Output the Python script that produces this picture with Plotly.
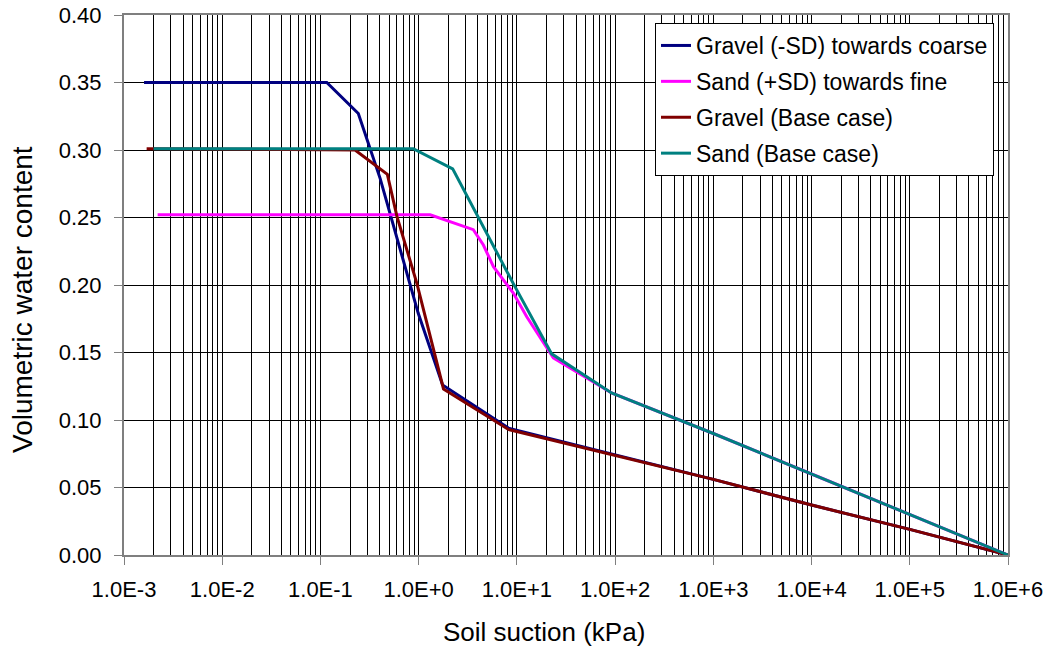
import numpy as np
import plotly.graph_objects as go

# Soil-water characteristic curves (suction in kPa, volumetric water content)
gravel_sd_x = [1.6e-3, 0.116, 0.243, 0.405, 0.99, 1.75, 8.2, 100, 1e3, 1e4, 1e5, 1e6]
gravel_sd_y = [0.350, 0.350, 0.327, 0.279, 0.179, 0.126, 0.094, 0.074, 0.056, 0.037, 0.019, 0.0]

sand_sd_x = [2.2e-3, 1.31, 3.6, 4.56, 5.77, 9.2, 12.6, 23.5, 92, 1e3, 1e4, 1e5, 1e6]
sand_sd_y = [0.252, 0.252, 0.241, 0.2296, 0.2136, 0.194, 0.1765, 0.146, 0.120, 0.090, 0.060, 0.030, 0.0]

gravel_base_x = [1.7e-3, 0.225, 0.48, 0.60, 0.96, 1.79, 8.2, 100, 1e3, 1e4, 1e5, 1e6]
gravel_base_y = [0.301, 0.300, 0.282, 0.251, 0.201, 0.123, 0.093, 0.074, 0.056, 0.037, 0.019, 0.0]

sand_base_x = [2.0e-3, 0.88, 2.22, 6.0, 9.2, 22.6, 92, 1e3, 1e4, 1e5, 1e6]
sand_base_y = [0.301, 0.301, 0.286, 0.226, 0.201, 0.149, 0.120, 0.090, 0.060, 0.030, 0.0]

series_names = ["Gravel (-SD) towards coarse", "Sand (+SD) towards fine",
                "Gravel (Base case)", "Sand (Base case)"]
series_colors = ["#000080", "#FF00FF", "#800000", "#008080"]

x_tick_vals = [1e-3, 1e-2, 1e-1, 1e0, 1e1, 1e2, 1e3, 1e4, 1e5, 1e6]
x_tick_text = ["1.0E-3", "1.0E-2", "1.0E-1", "1.0E+0", "1.0E+1",
               "1.0E+2", "1.0E+3", "1.0E+4", "1.0E+5", "1.0E+6"]
y_tick_vals = [0.0, 0.05, 0.10, 0.15, 0.20, 0.25, 0.30, 0.35, 0.40]
y_tick_text = ["0.00", "0.05", "0.10", "0.15", "0.20", "0.25", "0.30", "0.35", "0.40"]

# minor grid: 2..9 within every decade
minor_vals = [m * 10.0 ** e for e in range(-3, 6) for m in range(2, 10)]

FONT = "Liberation Sans, Arial, sans-serif"

fig = go.Figure()
for xs, ys, name, color in zip(
        [gravel_sd_x, sand_sd_x, gravel_base_x, sand_base_x],
        [gravel_sd_y, sand_sd_y, gravel_base_y, sand_base_y],
        series_names, series_colors):
    fig.add_trace(go.Scatter(x=xs, y=ys, mode="lines", name=name,
                             legendgroup=name,
                             line=dict(color=color, width=3)))

fig.update_layout(
    width=1050, height=649,
    margin=dict(l=124, r=42, t=15, b=94),
    paper_bgcolor="white", plot_bgcolor="white",
    font=dict(family=FONT, size=22, color="black"),
    showlegend=True,
    legend=dict(x=(655 - 124) / 884, y=(555 - 23) / 540,
                xanchor="left", yanchor="top",
                bgcolor="white", bordercolor="black", borderwidth=1,
                font=dict(family=FONT, size=23, color="black"),
                tracegroupgap=3, itemwidth=30),
    xaxis=dict(type="log", range=[-3, 6], automargin=False,
               tickvals=x_tick_vals, ticktext=x_tick_text,
               ticks="outside", ticklen=8, tickcolor="#7f7f7f",
               ticklabelstandoff=6,
               showgrid=True, gridcolor="black", gridwidth=1,
               minor=dict(tickvals=minor_vals, showgrid=True,
                          gridcolor="black", gridwidth=1, ticks=""),
               showline=True, linecolor="#7f7f7f", linewidth=2, mirror=True,
               zeroline=False),
    yaxis=dict(range=[0, 0.4], automargin=False,
               tickvals=y_tick_vals, ticktext=y_tick_text,
               ticks="outside", ticklen=8, tickcolor="#7f7f7f",
               ticklabelstandoff=8,
               showgrid=True, gridcolor="black", gridwidth=1,
               showline=True, linecolor="#7f7f7f", linewidth=2, mirror=True,
               zeroline=False),
    annotations=[
        dict(text="Soil suction (kPa)", xref="paper", yref="paper",
             x=(544 - 124) / 884, y=(555 - 632) / 540,
             xanchor="center", yanchor="middle", showarrow=False,
             font=dict(family=FONT, size=26, color="black")),
        dict(text="Volumetric water content", xref="paper", yref="paper",
             x=(22 - 124) / 884, y=(555 - 300) / 540, textangle=-90,
             xanchor="center", yanchor="middle", showarrow=False,
             font=dict(family=FONT, size=28, color="black")),
    ],
)

fig.write_html("out.html")
